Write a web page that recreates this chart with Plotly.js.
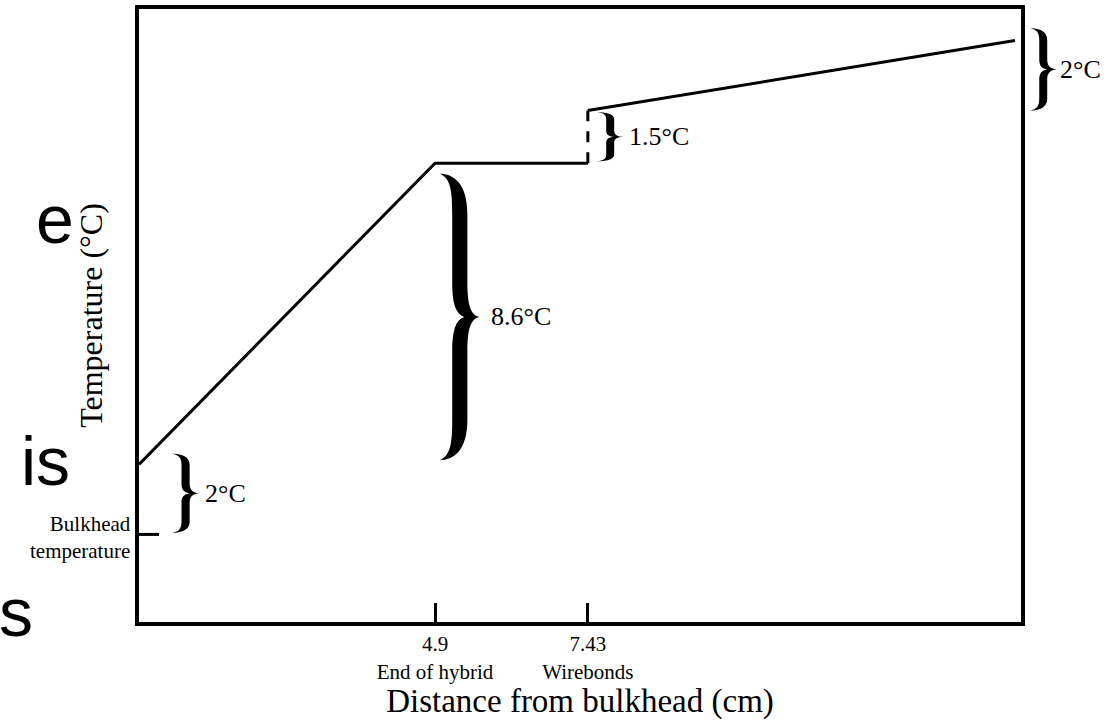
<!DOCTYPE html>
<html>
<head>
<meta charset="utf-8">
<script src="https://cdn.plot.ly/plotly-3.0.1.min.js"></script>
<style>
  html, body { margin: 0; padding: 0; background: #ffffff; }
  #chart { width: 1109px; height: 720px; }
</style>
</head>
<body>
<div id="chart"></div>
<script>
// Temperature profile along the module, measured from the bulkhead (cm)
const bulkheadX = [0, 0.33];
const bulkheadT = [0, 0];

// Solid profile: bulkhead contact -> end of hybrid -> wirebonds
const profileX = [0, 4.9, 7.43];
const profileT = [2, 10.6, 10.6];

// Step across the wirebonds
const stepX = [7.43, 7.43];
const stepT = [10.6, 12.1];

// Beyond the wirebonds to the far end
const tailX = [7.43, 14.5];
const tailT = [12.1, 14.1];

// Temperature rises marked with braces
const riseLow = [0, 2, 10.6, 12.1];
const riseHigh = [2, 10.6, 12.1, 14.1];
const riseLabels = ['2°C', '8.6°C', '1.5°C', '2°C'];

// Marked positions along the module
const tickVals = [4.9, 7.43];
const tickNames = ['End of hybrid', 'Wirebonds'];

// Fragments of the slide text to the left of the figure
const sideWords = ['e', 'is', 's'];

const SERIF = 'Liberation Serif, Times New Roman, serif';
const SANS = 'Liberation Sans, Arial, sans-serif';

// Filled right-pointing curly brace spanning [y0, y1], from x0 to x0 + w
function bracePath(x0, w, y0, y1, t) {
  const X = u => (x0 + u * w).toFixed(5);
  const Y = v => (y0 + v * (y1 - y0)).toFixed(5);
  const P = (u, v) => X(u) + ',' + Y(v);
  const sR = 0.5 + t / 2, sL = 0.5 - t / 2;
  return 'M' + P(0, 1) +
    ' C' + P(0.32, 1) + ' ' + P(sR, 0.97) + ' ' + P(sR, 0.86) +
    ' L' + P(sR, 0.62) +
    ' C' + P(sR, 0.54) + ' ' + P(0.78, 0.505) + ' ' + P(1, 0.5) +
    ' C' + P(0.78, 0.495) + ' ' + P(sR, 0.46) + ' ' + P(sR, 0.38) +
    ' L' + P(sR, 0.14) +
    ' C' + P(sR, 0.03) + ' ' + P(0.32, 0) + ' ' + P(0, 0) +
    ' C' + P(0.25, 0.015) + ' ' + P(sL, 0.05) + ' ' + P(sL, 0.14) +
    ' L' + P(sL, 0.38) +
    ' C' + P(sL, 0.45) + ' ' + P(sL + 0.08, 0.49) + ' ' + P(sL + 0.3, 0.5) +
    ' C' + P(sL + 0.08, 0.51) + ' ' + P(sL, 0.55) + ' ' + P(sL, 0.62) +
    ' L' + P(sL, 0.86) +
    ' C' + P(sL, 0.95) + ' ' + P(0.25, 0.985) + ' ' + P(0, 1) + ' Z';
}

// Brace placement: [xref, left edge, width, inset below, inset above, thickness, label gap]
const bracePlace = [
  ['x', 0.546, 0.45, 0.05, -0.3, 0.3, 4],
  ['x', 4.98, 0.66, 0.12, 0.3, 0.38, 9],
  ['x', 7.58, 0.44, 0.05, 0.05, 0.3, 3],
  ['paper', 1.0102, 0.03, 0.0, -0.35, 0.3, 2]
];

const shapes = [];
const annotations = [];
bracePlace.forEach((p, i) => {
  const [xref, x0, w, insLo, insHi, t, gap] = p;
  const lo = riseLow[i] + insLo, hi = riseHigh[i] - insHi;
  shapes.push({
    type: 'path', xref: xref, yref: 'y', layer: 'above',
    path: bracePath(x0, w, lo, hi, t),
    fillcolor: '#000000', line: { width: 0 }
  });
  annotations.push({
    xref: xref, yref: 'y', x: x0 + w, y: (lo + hi) / 2,
    xanchor: 'left', yanchor: 'middle', xshift: gap, showarrow: false,
    text: riseLabels[i], font: { family: SERIF, size: 26, color: '#000000' }
  });
});

annotations.push({
  xref: 'x', yref: 'y', x: 0, y: bulkheadT[0], xanchor: 'right', yanchor: 'middle',
  xshift: -6, yshift: -3, showarrow: false, align: 'right',
  text: 'Bulkhead<br>temperature', font: { family: SERIF, size: 21, color: '#000000' }
});

// Side text: right edges and vertical centres in page pixels
const sidePos = [[76, 219], [72, 461], [35, 612]];
const plotL = 139, plotW = 882, plotB = 622.5, plotH = 613.5;
sideWords.forEach((w, i) => {
  annotations.push({
    xref: 'paper', yref: 'paper',
    x: (sidePos[i][0] - plotL) / plotW, y: (plotB - sidePos[i][1]) / plotH,
    xanchor: 'right', yanchor: 'middle', showarrow: false,
    text: w, font: { family: SANS, size: 68, color: '#000000' }
  });
});

const lineStyle = { color: '#000000', width: 3 };
const traces = [
  { x: bulkheadX, y: bulkheadT, mode: 'lines', line: lineStyle, hoverinfo: 'skip' },
  { x: profileX, y: profileT, mode: 'lines', line: lineStyle, hoverinfo: 'skip' },
  { x: stepX, y: stepT, mode: 'lines', line: { color: '#000000', width: 3, dash: '11px,10px' }, hoverinfo: 'skip' },
  { x: tailX, y: tailT, mode: 'lines', line: lineStyle, hoverinfo: 'skip' }
];

const layout = {
  width: 1109, height: 720,
  margin: { l: 139, r: 88, t: 9, b: 97.5 },
  paper_bgcolor: '#ffffff', plot_bgcolor: '#ffffff',
  showlegend: false,
  xaxis: {
    range: [0, 14.6], showgrid: false, zeroline: false,
    showline: true, mirror: true, linecolor: '#000000', linewidth: 4,
    tickmode: 'array', tickvals: tickVals,
    ticktext: tickVals.map((v, i) => v + '<br>' + tickNames[i]),
    ticks: 'inside', ticklen: 19, tickwidth: 3, tickcolor: '#000000',
    tickfont: { family: SERIF, size: 21, color: '#000000' },
    title: { text: 'Distance from bulkhead (cm)', standoff: 2,
             font: { family: SERIF, size: 33, color: '#000000' } }
  },
  yaxis: {
    range: [-2.5, 15], showgrid: false, zeroline: false,
    showline: true, mirror: true, linecolor: '#000000', linewidth: 4,
    showticklabels: false, ticks: '',
    title: { text: 'Temperature (°C)', standoff: 24,
             font: { family: SERIF, size: 32, color: '#000000' } }
  },
  shapes: shapes,
  annotations: annotations
};

Plotly.newPlot('chart', traces, layout, { displayModeBar: false, staticPlot: true });
</script>
</body>
</html>
